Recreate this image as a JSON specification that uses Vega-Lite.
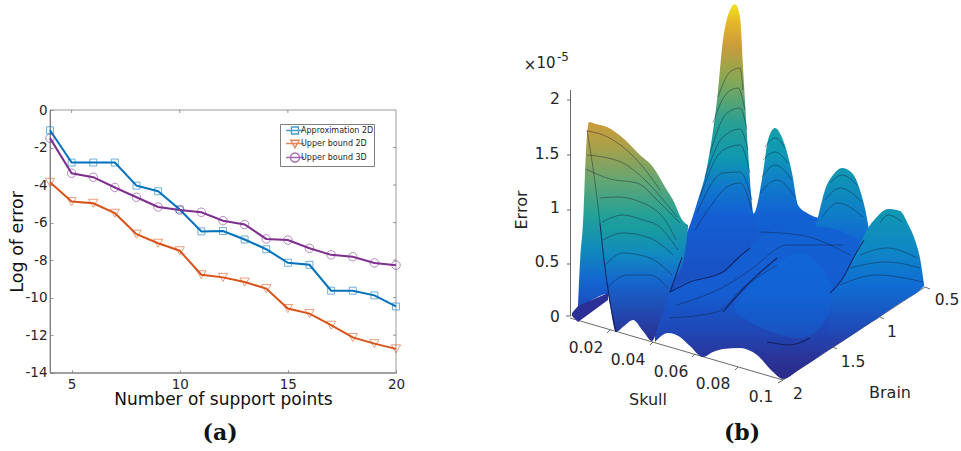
{"$schema":"https://vega.github.io/schema/vega-lite/v6.json","width":961,"height":451,"padding":0,"autosize":{"type":"none"},"background":"white","config":{"view":{"stroke":null},"font":"DejaVu Sans"},
"datasets":{
"errors":[
{"n":4,"series":"Approximation 2D","err":-1.08},{"n":5,"series":"Approximation 2D","err":-2.8},{"n":6,"series":"Approximation 2D","err":-2.8},{"n":7,"series":"Approximation 2D","err":-2.8},{"n":8,"series":"Approximation 2D","err":-4.03},{"n":9,"series":"Approximation 2D","err":-4.33},{"n":10,"series":"Approximation 2D","err":-5.3},{"n":11,"series":"Approximation 2D","err":-6.47},{"n":12,"series":"Approximation 2D","err":-6.45},{"n":13,"series":"Approximation 2D","err":-6.9},{"n":14,"series":"Approximation 2D","err":-7.42},{"n":15,"series":"Approximation 2D","err":-8.14},{"n":16,"series":"Approximation 2D","err":-8.25},{"n":17,"series":"Approximation 2D","err":-9.63},{"n":18,"series":"Approximation 2D","err":-9.63},{"n":19,"series":"Approximation 2D","err":-9.88},{"n":20,"series":"Approximation 2D","err":-10.47},
{"n":4,"series":"Upper bound 2D","err":-3.85},{"n":5,"series":"Upper bound 2D","err":-4.88},{"n":6,"series":"Upper bound 2D","err":-4.97},{"n":7,"series":"Upper bound 2D","err":-5.5},{"n":8,"series":"Upper bound 2D","err":-6.62},{"n":9,"series":"Upper bound 2D","err":-7.1},{"n":10,"series":"Upper bound 2D","err":-7.5},{"n":11,"series":"Upper bound 2D","err":-8.78},{"n":12,"series":"Upper bound 2D","err":-8.92},{"n":13,"series":"Upper bound 2D","err":-9.17},{"n":14,"series":"Upper bound 2D","err":-9.52},{"n":15,"series":"Upper bound 2D","err":-10.58},{"n":16,"series":"Upper bound 2D","err":-10.85},{"n":17,"series":"Upper bound 2D","err":-11.47},{"n":18,"series":"Upper bound 2D","err":-12.12},{"n":19,"series":"Upper bound 2D","err":-12.45},{"n":20,"series":"Upper bound 2D","err":-12.73},
{"n":4,"series":"Upper bound 3D","err":-1.5},{"n":5,"series":"Upper bound 3D","err":-3.37},{"n":6,"series":"Upper bound 3D","err":-3.58},{"n":7,"series":"Upper bound 3D","err":-4.13},{"n":8,"series":"Upper bound 3D","err":-4.65},{"n":9,"series":"Upper bound 3D","err":-5.17},{"n":10,"series":"Upper bound 3D","err":-5.33},{"n":11,"series":"Upper bound 3D","err":-5.45},{"n":12,"series":"Upper bound 3D","err":-5.9},{"n":13,"series":"Upper bound 3D","err":-6.1},{"n":14,"series":"Upper bound 3D","err":-6.87},{"n":15,"series":"Upper bound 3D","err":-6.93},{"n":16,"series":"Upper bound 3D","err":-7.37},{"n":17,"series":"Upper bound 3D","err":-7.72},{"n":18,"series":"Upper bound 3D","err":-7.82},{"n":19,"series":"Upper bound 3D","err":-8.15},{"n":20,"series":"Upper bound 3D","err":-8.27}],
"frame":[{"a":4,"b":20,"c":-14,"d":0}],
"topticks":[{"t":5},{"t":10},{"t":15}],
"rightticks":[{"t":-2},{"t":-4},{"t":-6},{"t":-8},{"t":-10},{"t":-12}],
"surface":[
{"part":"R3","sx":753,"top":214,"base":300},{"part":"R3","sx":755,"top":212,"base":300},{"part":"R3","sx":763,"top":173,"base":300},{"part":"R3","sx":768,"top":140,"base":300},{"part":"R3","sx":775,"top":128,"base":300},{"part":"R3","sx":783,"top":140,"base":300},{"part":"R3","sx":792,"top":173,"base":300},{"part":"R3","sx":798,"top":205,"base":300},{"part":"R3","sx":807,"top":213,"base":300},{"part":"R3","sx":815,"top":217,"base":300},{"part":"R3","sx":820,"top":218,"base":300},
{"part":"R2","sx":812,"top":240,"base":300},{"part":"R2","sx":818,"top":217,"base":300},{"part":"R2","sx":825,"top":190,"base":300},{"part":"R2","sx":833,"top":175,"base":300},{"part":"R2","sx":842,"top":168,"base":300},{"part":"R2","sx":852,"top":173,"base":300},{"part":"R2","sx":860,"top":190,"base":300},{"part":"R2","sx":868,"top":224,"base":300},{"part":"R2","sx":874,"top":270,"base":300},
{"part":"P","sx":665,"top":285,"base":300},{"part":"P","sx":672,"top":265,"base":300},{"part":"P","sx":680,"top":245,"base":300},{"part":"P","sx":688,"top":230,"base":300},{"part":"P","sx":697,"top":203,"base":300},{"part":"P","sx":707,"top":167,"base":300},{"part":"P","sx":717,"top":100,"base":300},{"part":"P","sx":723,"top":40,"base":300},{"part":"P","sx":730,"top":10,"base":300},{"part":"P","sx":735,"top":4,"base":300},{"part":"P","sx":740,"top":17,"base":300},{"part":"P","sx":743,"top":67,"base":300},{"part":"P","sx":748,"top":150,"base":300},{"part":"P","sx":753,"top":212,"base":300},{"part":"P","sx":760,"top":235,"base":300},
{"part":"M","sx":655,"top":295,"base":342},{"part":"M","sx":668,"top":292,"base":333},{"part":"M","sx":680,"top":285,"base":337},{"part":"M","sx":690,"top":280,"base":346},{"part":"M","sx":703,"top":277,"base":357},{"part":"M","sx":713,"top":275,"base":352},{"part":"M","sx":723,"top":272,"base":349},{"part":"M","sx":740,"top":258,"base":348},{"part":"M","sx":757,"top":240,"base":355},{"part":"M","sx":773,"top":232,"base":372},{"part":"M","sx":783,"top":230,"base":379},{"part":"M","sx":800,"top":226,"base":369},{"part":"M","sx":830,"top":228,"base":349},{"part":"M","sx":850,"top":235,"base":336},{"part":"M","sx":870,"top":250,"base":323},
{"part":"H","sx":735,"top":305,"base":312},{"part":"H","sx":750,"top":285,"base":322},{"part":"H","sx":777,"top":262,"base":334},{"part":"H","sx":800,"top":254,"base":338},{"part":"H","sx":820,"top":265,"base":328},{"part":"H","sx":833,"top":290,"base":305},
{"part":"R1","sx":830,"top":295,"base":349},{"part":"R1","sx":843,"top":278,"base":341},{"part":"R1","sx":855,"top":255,"base":333},{"part":"R1","sx":868,"top":228,"base":324},{"part":"R1","sx":875,"top":219,"base":320},{"part":"R1","sx":888,"top":209,"base":311},{"part":"R1","sx":900,"top":211,"base":303},{"part":"R1","sx":908,"top":224,"base":298},{"part":"R1","sx":915,"top":240,"base":294},{"part":"R1","sx":920,"top":258,"base":290},{"part":"R1","sx":924,"top":284,"base":286},
{"part":"L1","sx":578,"top":307,"base":310},{"part":"L1","sx":580,"top":262,"base":308},{"part":"L1","sx":583,"top":223,"base":306},{"part":"L1","sx":586,"top":150,"base":304},{"part":"L1","sx":589,"top":122,"base":302},{"part":"L1","sx":596,"top":124,"base":298},{"part":"L1","sx":607,"top":127,"base":294},{"part":"L1","sx":623,"top":138,"base":294},{"part":"L1","sx":640,"top":155,"base":294},{"part":"L1","sx":653,"top":167,"base":292},{"part":"L1","sx":665,"top":187,"base":290},{"part":"L1","sx":673,"top":200,"base":280},{"part":"L1","sx":683,"top":221,"base":262},{"part":"L1","sx":688,"top":225,"base":228},
{"part":"L2","sx":602,"top":225,"base":240},{"part":"L2","sx":606,"top":225,"base":280},{"part":"L2","sx":610,"top":225,"base":305},{"part":"L2","sx":616,"top":225,"base":332},{"part":"L2","sx":624,"top":225,"base":326},{"part":"L2","sx":633,"top":225,"base":320},{"part":"L2","sx":643,"top":225,"base":331},{"part":"L2","sx":652,"top":225,"base":341},{"part":"L2","sx":660,"top":225,"base":320},{"part":"L2","sx":670,"top":225,"base":292},{"part":"L2","sx":676,"top":240,"base":275},{"part":"L2","sx":682,"top":257,"base":258},
{"part":"D","sx":572,"top":313,"base":316},{"part":"D","sx":578,"top":306,"base":322},{"part":"D","sx":608,"top":293,"base":300}],
"contours":[
{"c":0,"sx":587,"sy":130},{"c":0,"sx":594,"sy":175},{"c":0,"sx":600,"sy":223},
{"c":1,"sx":587,"sy":131},{"c":1,"sx":603,"sy":135},{"c":1,"sx":623,"sy":147},{"c":1,"sx":643,"sy":167},{"c":1,"sx":660,"sy":190},
{"c":2,"sx":587,"sy":155},{"c":2,"sx":603,"sy":157},{"c":2,"sx":623,"sy":163},{"c":2,"sx":650,"sy":185},{"c":2,"sx":677,"sy":217},
{"c":3,"sx":586,"sy":169},{"c":3,"sx":610,"sy":179},{"c":3,"sx":637,"sy":183},{"c":3,"sx":660,"sy":203},{"c":3,"sx":680,"sy":223},
{"c":4,"sx":600,"sy":198},{"c":4,"sx":617,"sy":197},{"c":4,"sx":643,"sy":203},{"c":4,"sx":667,"sy":223},{"c":4,"sx":676,"sy":240},
{"c":5,"sx":602,"sy":222},{"c":5,"sx":623,"sy":215},{"c":5,"sx":643,"sy":220},{"c":5,"sx":657,"sy":225},{"c":5,"sx":678,"sy":250},
{"c":6,"sx":603,"sy":240},{"c":6,"sx":623,"sy":233},{"c":6,"sx":650,"sy":238},{"c":6,"sx":673,"sy":255},
{"c":7,"sx":605,"sy":265},{"c":7,"sx":623,"sy":253},{"c":7,"sx":650,"sy":258},{"c":7,"sx":672,"sy":275},
{"c":8,"sx":608,"sy":287},{"c":8,"sx":627,"sy":275},{"c":8,"sx":650,"sy":275},{"c":8,"sx":668,"sy":288},
{"c":10,"sx":718,"sy":97},{"c":10,"sx":730,"sy":72},{"c":10,"sx":740,"sy":68},{"c":10,"sx":743,"sy":90},
{"c":11,"sx":713,"sy":123},{"c":11,"sx":727,"sy":93},{"c":11,"sx":738,"sy":88},{"c":11,"sx":745,"sy":110},
{"c":12,"sx":710,"sy":153},{"c":12,"sx":727,"sy":113},{"c":12,"sx":740,"sy":108},{"c":12,"sx":747,"sy":130},
{"c":13,"sx":705,"sy":177},{"c":13,"sx":723,"sy":137},{"c":13,"sx":740,"sy":129},{"c":13,"sx":748,"sy":150},
{"c":14,"sx":700,"sy":197},{"c":14,"sx":723,"sy":150},{"c":14,"sx":740,"sy":145},{"c":14,"sx":750,"sy":173},
{"c":15,"sx":697,"sy":213},{"c":15,"sx":723,"sy":173},{"c":15,"sx":740,"sy":172},{"c":15,"sx":752,"sy":200},
{"c":16,"sx":695,"sy":230},{"c":16,"sx":710,"sy":207},{"c":16,"sx":727,"sy":187},{"c":16,"sx":740,"sy":183},{"c":16,"sx":752,"sy":210},
{"c":20,"sx":765,"sy":147},{"c":20,"sx":775,"sy":138},{"c":20,"sx":785,"sy":148},
{"c":21,"sx":763,"sy":160},{"c":21,"sx":775,"sy":152},{"c":21,"sx":788,"sy":163},
{"c":22,"sx":762,"sy":177},{"c":22,"sx":775,"sy":165},{"c":22,"sx":792,"sy":180},
{"c":23,"sx":760,"sy":193},{"c":23,"sx":777,"sy":180},{"c":23,"sx":795,"sy":197},
{"c":30,"sx":830,"sy":183},{"c":30,"sx":842,"sy":175},{"c":30,"sx":857,"sy":185},
{"c":31,"sx":825,"sy":200},{"c":31,"sx":840,"sy":188},{"c":31,"sx":862,"sy":202},
{"c":32,"sx":822,"sy":217},{"c":32,"sx":838,"sy":203},{"c":32,"sx":863,"sy":217},
{"c":40,"sx":880,"sy":223},{"c":40,"sx":888,"sy":215},{"c":40,"sx":902,"sy":222},
{"c":41,"sx":860,"sy":255},{"c":41,"sx":887,"sy":248},{"c":41,"sx":917,"sy":258},
{"c":42,"sx":850,"sy":268},{"c":42,"sx":887,"sy":262},{"c":42,"sx":920,"sy":268},
{"c":43,"sx":840,"sy":285},{"c":43,"sx":877,"sy":275},{"c":43,"sx":923,"sy":282},
{"c":50,"sx":677,"sy":305},{"c":50,"sx":727,"sy":285},{"c":50,"sx":753,"sy":268},{"c":50,"sx":787,"sy":245},{"c":50,"sx":843,"sy":245},
{"c":51,"sx":670,"sy":318},{"c":51,"sx":717,"sy":312},{"c":51,"sx":743,"sy":288},{"c":51,"sx":777,"sy":265},
{"c":52,"sx":760,"sy":232},{"c":52,"sx":800,"sy":235},{"c":52,"sx":850,"sy":255}],
"folds":[
{"f":1,"sx":670,"sy":292},{"f":1,"sx":690,"sy":282},{"f":1,"sx":723,"sy":272},{"f":1,"sx":738,"sy":258},{"f":1,"sx":750,"sy":248},
{"f":2,"sx":723,"sy":312},{"f":2,"sx":750,"sy":282},{"f":2,"sx":777,"sy":258},
{"f":3,"sx":830,"sy":293},{"f":3,"sx":843,"sy":278},{"f":3,"sx":855,"sy":255},{"f":3,"sx":864,"sy":240},
{"f":4,"sx":767,"sy":342},{"f":4,"sx":790,"sy":345},{"f":4,"sx":810,"sy":338},
{"f":5,"sx":670,"sy":292},{"f":5,"sx":676,"sy":275},{"f":5,"sx":682,"sy":257},
{"f":6,"sx":600,"sy":223},{"f":6,"sx":604,"sy":260},{"f":6,"sx":610,"sy":302},{"f":6,"sx":616,"sy":332}],
"axislines":[
{"x1":570.5,"y1":90,"x2":570.5,"y2":316},{"x1":570,"y1":318,"x2":783,"y2":380},{"x1":783,"y1":380,"x2":925,"y2":287},
{"x1":570.5,"y1":100,"x2":567,"y2":100},{"x1":570.5,"y1":155,"x2":567,"y2":155},{"x1":570.5,"y1":210,"x2":567,"y2":210},{"x1":570.5,"y1":264,"x2":567,"y2":264},{"x1":570.5,"y1":316,"x2":566,"y2":316},
{"x1":610,"y1":330,"x2":607,"y2":333},{"x1":653,"y1":342,"x2":650,"y2":345},{"x1":695,"y1":354,"x2":692,"y2":357},{"x1":738,"y1":367,"x2":735,"y2":370},{"x1":783,"y1":380,"x2":778,"y2":383},
{"x1":833,"y1":347,"x2":837,"y2":349},{"x1":880,"y1":317,"x2":884,"y2":319},{"x1":925,"y1":287,"x2":930,"y2":289}],
"ticklabels":[
{"t":"2","sx":555,"sy":99},{"t":"1.5","sx":547,"sy":154},{"t":"1","sx":555,"sy":208},{"t":"0.5","sx":547,"sy":262},{"t":"0","sx":555,"sy":317},
{"t":"0.02","sx":586,"sy":348},{"t":"0.04","sx":628,"sy":360},{"t":"0.06","sx":671,"sy":372},{"t":"0.08","sx":713,"sy":384},{"t":"0.1","sx":761,"sy":397},
{"t":"2","sx":798,"sy":394},{"t":"1.5","sx":853,"sy":362},{"t":"1","sx":892,"sy":332},{"t":"0.5","sx":947,"sy":300}],
"names":[{"t":"Skull","sx":648,"sy":400},{"t":"Brain","sx":890,"sy":393}],
"exp":[{"t":"10","sx":546,"sy":63},{"t":"×","sx":530,"sy":65}],
"sup":[{"t":"-5","sx":563,"sy":57}],
"vert":[{"t":"Error","sx":522,"sy":210}],
"captions":[{"t":"(a)","sx":220,"sy":433},{"t":"(b)","sx":742,"sy":433}]
},
"layer":[
{"layer":[
{"data":{"name":"errors"},"mark":{"type":"point","size":0,"filled":false,"strokeWidth":1,"clip":false},"encoding":{
"x":{"field":"n","type":"quantitative","scale":{"domain":[4,20],"range":[50,396],"nice":false,"zero":false},"axis":{"values":[5,10,15,20],"format":"d","title":"Number of support points","titleFontSize":17,"titleFontWeight":"normal","titleColor":"#111","labelFontSize":13.5,"labelColor":"#262626","offset":-78.3,"tickSize":-3,"tickColor":"#555","tickWidth":0.6,"domainColor":"#808080","labelPadding":8,"titlePadding":0,"grid":false,"labelFlush":false,"labelOverlap":false}},
"y":{"field":"err","type":"quantitative","scale":{"domain":[-14,0],"range":[372.7,110],"nice":false,"zero":false},"axis":{"values":[0,-2,-4,-6,-8,-10,-12,-14],"labelExpr":"datum.value+''","title":"Log of error","titleFontSize":17.5,"titleFontWeight":"normal","titleColor":"#111","labelFontSize":13.5,"labelColor":"#262626","offset":-50,"tickSize":-3,"tickColor":"#555","tickWidth":0.6,"domainColor":"#808080","labelPadding":6,"titlePadding":-2,"grid":false}},
"color":{"field":"series","type":"nominal","scale":{"domain":["Approximation 2D","Upper bound 2D","Upper bound 3D"],"range":["#0072BD","#D95319","#7E2F8E"]},"legend":{"orient":"none","legendX":280,"legendY":124,"title":null,"labelFontSize":8,"labelColor":"#262626","symbolSize":100,"symbolStrokeWidth":1.4,"symbolType":"circle","labelOffset":0,"rowPadding":-5.9,"padding":0.5,"strokeColor":"#808080","fillColor":"white","symbolOffset":8.5}},
"shape":{"field":"series","type":"nominal","scale":{"domain":["Approximation 2D","Upper bound 2D","Upper bound 3D"],"range":["M-0.7,-0.7H0.7V0.7H-0.7Z M-1.8,0H1.8","M-0.85,-0.65H0.85L0,0.85Z M-1.8,0H1.8","M-0.9,0A0.9,0.9 0 1 1 0.9,0A0.9,0.9 0 1 1 -0.9,0Z M-1.8,0H1.8"]}}}},
{"data":{"name":"frame"},"mark":{"type":"rect","filled":false,"stroke":"#808080","strokeWidth":0.8},"encoding":{"x":{"field":"a","type":"quantitative"},"x2":{"field":"b"},"y":{"field":"c","type":"quantitative"},"y2":{"field":"d"}}},
{"data":{"name":"topticks"},"mark":{"type":"rule","color":"#555","strokeWidth":0.6},"encoding":{"x":{"field":"t","type":"quantitative"},"y":{"datum":0},"y2":{"datum":-0.16}}},
{"data":{"name":"rightticks"},"mark":{"type":"rule","color":"#555","strokeWidth":0.6},"encoding":{"y":{"field":"t","type":"quantitative"},"x":{"datum":20},"x2":{"datum":19.86}}},
{"data":{"name":"errors"},"mark":{"type":"line","strokeWidth":2},"encoding":{"x":{"field":"n","type":"quantitative"},"y":{"field":"err","type":"quantitative"},"color":{"field":"series","type":"nominal"}}},
{"data":{"name":"errors"},"transform":[{"filter":"datum.series==='Approximation 2D'"}],"mark":{"type":"point","shape":"square","size":48,"filled":false,"strokeWidth":1,"strokeOpacity":0.8,"clip":false},"encoding":{"x":{"field":"n","type":"quantitative"},"y":{"field":"err","type":"quantitative"},"color":{"field":"series","type":"nominal"}}},
{"data":{"name":"errors"},"transform":[{"filter":"datum.series==='Upper bound 2D'"}],"mark":{"type":"point","shape":"triangle-down","size":85,"filled":false,"strokeWidth":1,"strokeOpacity":0.8,"clip":false},"encoding":{"x":{"field":"n","type":"quantitative"},"y":{"field":"err","type":"quantitative"},"color":{"field":"series","type":"nominal"}}},
{"data":{"name":"errors"},"transform":[{"filter":"datum.series==='Upper bound 3D'"}],"mark":{"type":"point","shape":"circle","size":72,"filled":false,"strokeWidth":1,"strokeOpacity":0.8,"clip":false},"encoding":{"x":{"field":"n","type":"quantitative"},"y":{"field":"err","type":"quantitative"},"color":{"field":"series","type":"nominal"}}}
]},
{"layer":[
{"data":{"name":"axislines"},"mark":{"type":"rule","color":"#444","strokeWidth":0.8},"encoding":{"x":{"field":"x1","type":"quantitative","scale":{"domain":[0,961],"range":[0,961],"nice":false,"zero":false},"axis":null},"x2":{"field":"x2"},"y":{"field":"y1","type":"quantitative","scale":{"domain":[0,451],"range":[0,451],"nice":false,"zero":false},"axis":null},"y2":{"field":"y2"}}},
{"data":{"name":"surface"},"transform":[{"filter":"datum.part==='R3'"}],"mark":{"type":"area","interpolate":"monotone","color":{"gradient":"linear","x1":0,"y1":0,"x2":0,"y2":1,"stops":[{"offset":0,"color":"#15a0a8"},{"offset":0.15,"color":"#0f98b4"},{"offset":0.3,"color":"#0f80c8"},{"offset":0.5,"color":"#1262d4"},{"offset":1,"color":"#1a50c0"}]}},"encoding":{"x":{"field":"sx","type":"quantitative","axis":null},"y":{"field":"top","type":"quantitative","axis":null},"y2":{"field":"base"}}},
{"data":{"name":"surface"},"transform":[{"filter":"datum.part==='R2'"}],"mark":{"type":"area","interpolate":"monotone","color":{"gradient":"linear","x1":0,"y1":0,"x2":0,"y2":1,"stops":[{"offset":0,"color":"#1098b0"},{"offset":0.3,"color":"#0f82c6"},{"offset":0.55,"color":"#1068d4"},{"offset":1,"color":"#1a50c0"}]}},"encoding":{"x":{"field":"sx","type":"quantitative","axis":null},"y":{"field":"top","type":"quantitative","axis":null},"y2":{"field":"base"}}},
{"data":{"name":"surface"},"transform":[{"filter":"datum.part==='P'"}],"mark":{"type":"area","interpolate":"monotone","color":{"gradient":"linear","x1":0,"y1":0,"x2":0,"y2":1,"stops":[{"offset":0,"color":"#f2e418"},{"offset":0.06,"color":"#e6b82a"},{"offset":0.14,"color":"#cb9c3a"},{"offset":0.26,"color":"#84a856"},{"offset":0.4,"color":"#28a094"},{"offset":0.52,"color":"#1098b0"},{"offset":0.62,"color":"#1078cc"},{"offset":0.72,"color":"#145ed4"},{"offset":1,"color":"#1b4cbc"}]}},"encoding":{"x":{"field":"sx","type":"quantitative","axis":null},"y":{"field":"top","type":"quantitative","axis":null},"y2":{"field":"base"}}},
{"data":{"name":"surface"},"transform":[{"filter":"datum.part==='M'"}],"mark":{"type":"area","interpolate":"monotone","color":{"gradient":"linear","x1":0,"y1":0,"x2":0,"y2":1,"stops":[{"offset":0,"color":"#1262d4"},{"offset":0.45,"color":"#155cd0"},{"offset":0.7,"color":"#2046b4"},{"offset":0.88,"color":"#2b3296"},{"offset":1,"color":"#2c2a88"}]}},"encoding":{"x":{"field":"sx","type":"quantitative","axis":null},"y":{"field":"top","type":"quantitative","axis":null},"y2":{"field":"base"}}},
{"data":{"name":"surface"},"transform":[{"filter":"datum.part==='H'"}],"mark":{"type":"area","interpolate":"monotone","opacity":0.3,"color":"#0c74e0"},"encoding":{"x":{"field":"sx","type":"quantitative","axis":null},"y":{"field":"top","type":"quantitative","axis":null},"y2":{"field":"base"}}},
{"data":{"name":"surface"},"transform":[{"filter":"datum.part==='R1'"}],"mark":{"type":"area","interpolate":"monotone","color":{"gradient":"linear","x1":0,"y1":0,"x2":0,"y2":1,"stops":[{"offset":0,"color":"#1098b0"},{"offset":0.3,"color":"#0f86c6"},{"offset":0.55,"color":"#106cd4"},{"offset":0.85,"color":"#1f4cb8"},{"offset":1,"color":"#2a3aa0"}]}},"encoding":{"x":{"field":"sx","type":"quantitative","axis":null},"y":{"field":"top","type":"quantitative","axis":null},"y2":{"field":"base"}}},
{"data":{"name":"surface"},"transform":[{"filter":"datum.part==='L1'"}],"mark":{"type":"area","interpolate":"monotone","color":{"gradient":"linear","x1":0,"y1":0,"x2":0,"y2":1,"stops":[{"offset":0,"color":"#cc9c3a"},{"offset":0.13,"color":"#aaa04a"},{"offset":0.3,"color":"#68a670"},{"offset":0.5,"color":"#22a098"},{"offset":0.68,"color":"#108abc"},{"offset":0.85,"color":"#1464d0"},{"offset":1,"color":"#1c4abc"}]}},"encoding":{"x":{"field":"sx","type":"quantitative","axis":null},"y":{"field":"top","type":"quantitative","axis":null},"y2":{"field":"base"}}},
{"data":{"name":"surface"},"transform":[{"filter":"datum.part==='L2'"}],"mark":{"type":"area","interpolate":"monotone","color":{"gradient":"linear","x1":0,"y1":0,"x2":0,"y2":1,"stops":[{"offset":0,"color":"#1a9f9a"},{"offset":0.25,"color":"#118ac0"},{"offset":0.5,"color":"#1664ce"},{"offset":0.8,"color":"#2444aa"},{"offset":1,"color":"#2c2f90"}]}},"encoding":{"x":{"field":"sx","type":"quantitative","axis":null},"y":{"field":"top","type":"quantitative","axis":null},"y2":{"field":"base"}}},
{"data":{"name":"surface"},"transform":[{"filter":"datum.part==='D'"}],"mark":{"type":"area","color":"#2c2f96"},"encoding":{"x":{"field":"sx","type":"quantitative","axis":null},"y":{"field":"top","type":"quantitative","axis":null},"y2":{"field":"base"}}},
{"data":{"name":"contours"},"mark":{"type":"line","interpolate":"monotone","color":"#101a30","strokeWidth":0.7,"opacity":0.6},"encoding":{"x":{"field":"sx","type":"quantitative","axis":null},"y":{"field":"sy","type":"quantitative","axis":null},"detail":{"field":"c","type":"nominal"}}},
{"data":{"name":"folds"},"mark":{"type":"line","interpolate":"monotone","color":"#11184f","strokeWidth":1.1,"opacity":0.8},"encoding":{"x":{"field":"sx","type":"quantitative","axis":null},"y":{"field":"sy","type":"quantitative","axis":null},"detail":{"field":"f","type":"nominal"}}},
{"data":{"name":"ticklabels"},"mark":{"type":"text","fontSize":15.5,"color":"#262626"},"encoding":{"x":{"field":"sx","type":"quantitative","axis":null},"y":{"field":"sy","type":"quantitative","axis":null},"text":{"field":"t"}}},
{"data":{"name":"names"},"mark":{"type":"text","fontSize":16,"color":"#262626"},"encoding":{"x":{"field":"sx","type":"quantitative","axis":null},"y":{"field":"sy","type":"quantitative","axis":null},"text":{"field":"t"}}},
{"data":{"name":"exp"},"mark":{"type":"text","fontSize":15,"color":"#262626"},"encoding":{"x":{"field":"sx","type":"quantitative","axis":null},"y":{"field":"sy","type":"quantitative","axis":null},"text":{"field":"t"}}},
{"data":{"name":"sup"},"mark":{"type":"text","fontSize":12,"color":"#262626"},"encoding":{"x":{"field":"sx","type":"quantitative","axis":null},"y":{"field":"sy","type":"quantitative","axis":null},"text":{"field":"t"}}},
{"data":{"name":"vert"},"mark":{"type":"text","fontSize":16,"angle":270,"color":"#262626"},"encoding":{"x":{"field":"sx","type":"quantitative","axis":null},"y":{"field":"sy","type":"quantitative","axis":null},"text":{"field":"t"}}},
{"data":{"name":"captions"},"mark":{"type":"text","fontSize":22,"font":"DejaVu Serif","fontWeight":"bold","color":"#111"},"encoding":{"x":{"field":"sx","type":"quantitative","axis":null},"y":{"field":"sy","type":"quantitative","axis":null},"text":{"field":"t"}}}
]}
],
"resolve":{"scale":{"x":"independent","y":"independent"},"axis":{"x":"independent","y":"independent"}}}
